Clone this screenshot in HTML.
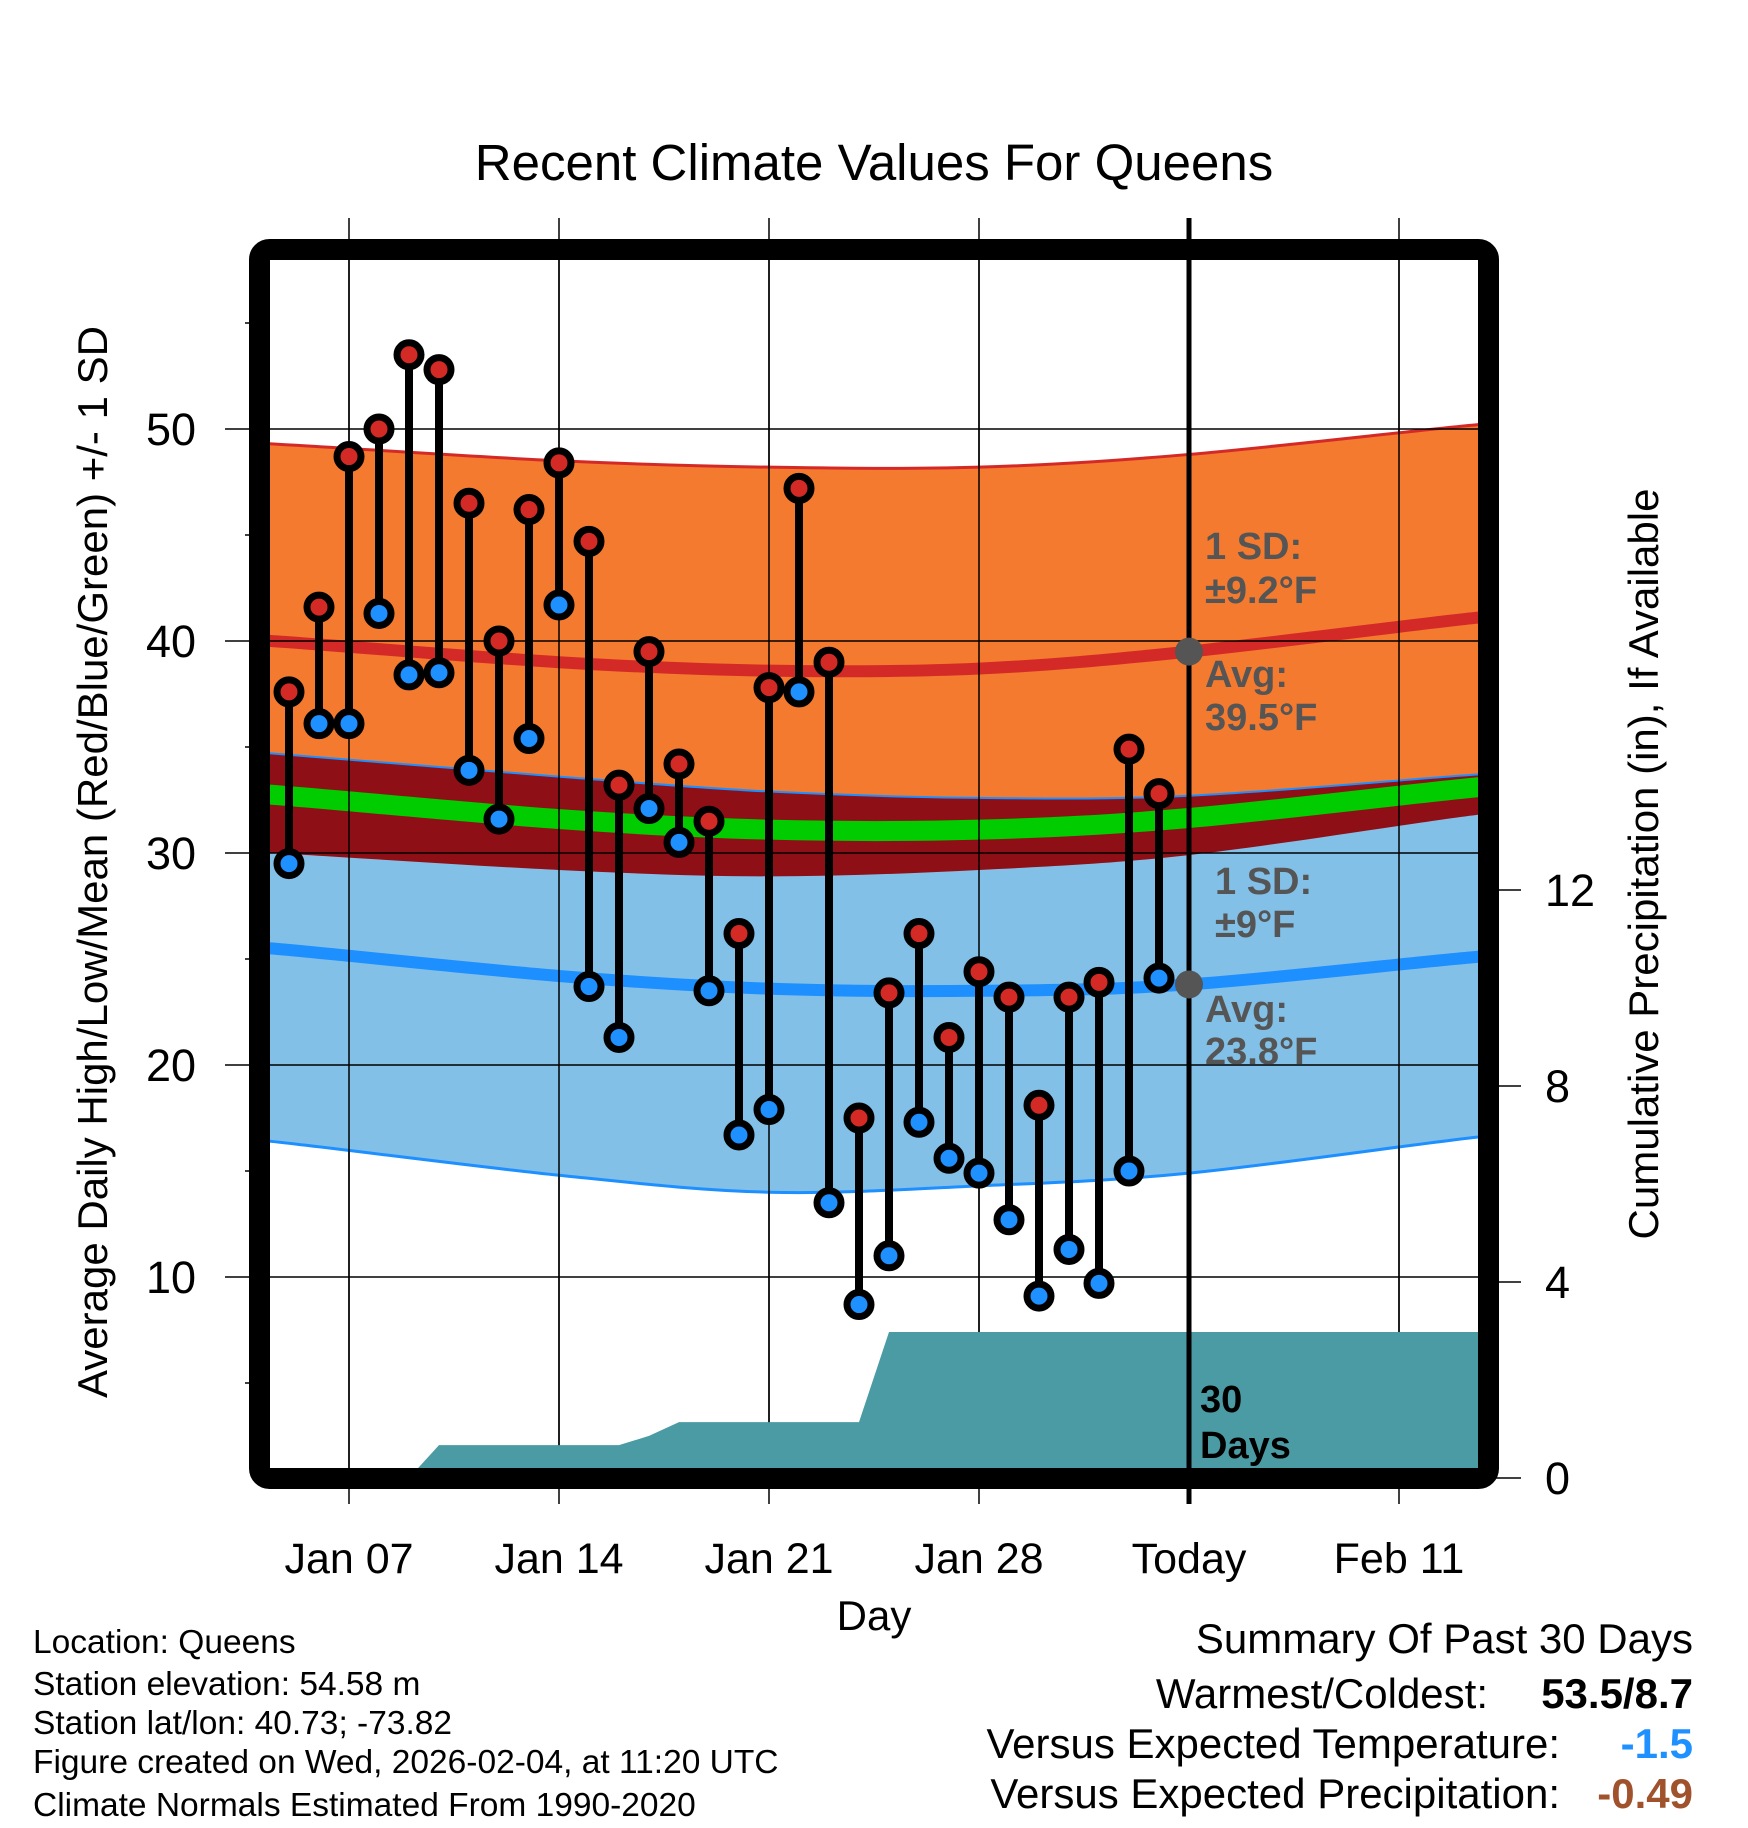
<!DOCTYPE html>
<html><head><meta charset="utf-8"><style>
html,body{margin:0;padding:0;background:#fff;}
svg{display:block;font-family:"Liberation Sans",Arial,sans-serif;}
</style></head><body>
<svg id="chart" width="1748" height="1828" viewBox="0 0 1748 1828" xmlns="http://www.w3.org/2000/svg">
<defs><clipPath id="plotclip"><rect x="270" y="260" width="1208" height="1208"/></clipPath></defs>
<text x="874" y="180" font-size="51" text-anchor="middle">Recent Climate Values For Queens</text>
<g id="grid"></g>
<g id="plot" clip-path="url(#plotclip)"></g>
<g id="axes"></g>
<rect x="259.5" y="249.5" width="1229" height="1229" rx="10" fill="none" stroke="#000" stroke-width="21"/>
<g id="annot" font-weight="bold" font-size="38" fill="#555">
<text x="1205" y="559">1 SD:</text>
<text x="1205" y="603">±9.2°F</text>
<text x="1205" y="687">Avg:</text>
<text x="1205" y="730">39.5°F</text>
<text x="1215" y="894">1 SD:</text>
<text x="1215" y="937">±9°F</text>
<text x="1205" y="1022">Avg:</text>
<text x="1205" y="1064">23.8°F</text>
<text x="1200" y="1412" fill="#000">30</text>
<text x="1200" y="1458" fill="#000">Days</text>
</g>
<text transform="translate(107,862) rotate(-90)" font-size="42" text-anchor="middle">Average Daily High/Low/Mean (Red/Blue/Green) +/- 1 SD</text>
<text transform="translate(1658,864) rotate(-90)" font-size="42" text-anchor="middle">Cumulative Precipitation (in), If Available</text>
<text x="874" y="1630" font-size="42" text-anchor="middle">Day</text>
<g font-size="33.5">
<text x="33" y="1653">Location: Queens</text>
<text x="33" y="1695">Station elevation: 54.58 m</text>
<text x="33" y="1734">Station lat/lon: 40.73; -73.82</text>
<text x="33" y="1773">Figure created on Wed, 2026-02-04, at 11:20 UTC</text>
<text x="33" y="1816">Climate Normals Estimated From 1990-2020</text>
</g>
<g font-size="42">
<text x="1693" y="1653" text-anchor="end">Summary Of Past 30 Days</text>
<text x="1488" y="1708" text-anchor="end">Warmest/Coldest:</text>
<text x="1693" y="1708" text-anchor="end" font-weight="bold">53.5/8.7</text>
<text x="1560" y="1758" text-anchor="end">Versus Expected Temperature:</text>
<text x="1693" y="1758" text-anchor="end" font-weight="bold" fill="#1e90ff">-1.5</text>
<text x="1560" y="1808" text-anchor="end">Versus Expected Precipitation:</text>
<text x="1693" y="1808" text-anchor="end" font-weight="bold" fill="#a0522d">-0.49</text>
</g>
</svg>
<script>
// days are offsets from Jan 07
const obsDays = [-2,-1,0,1,2,3,4,5,6,7,8,9,10,11,12,13,14,15,16,17,18,19,20,21,22,23,24,25,26,27];
const highs = [37.6,41.6,48.7,50.0,53.5,52.8,46.5,40.0,46.2,48.4,44.7,33.2,39.5,34.2,31.5,26.2,37.8,47.2,39.0,17.5,23.4,26.2,21.3,24.4,23.2,18.1,23.2,23.9,34.9,32.8];
const lows = [29.5,36.1,36.1,41.3,38.4,38.5,33.9,31.6,35.4,41.7,23.7,21.3,32.1,30.5,23.5,16.7,17.9,37.6,13.5,8.7,11.0,17.3,15.6,14.9,12.7,9.1,11.3,9.7,15.0,24.1];
const normDays = [-2.6,7,14,21,28,37.6];
const highAvg = [40.0,39.0,38.6,38.7,39.5,41.1];
const highUpper = [49.3,48.5,48.2,48.2,48.8,50.2];
const highLower = [30.0,29.2,28.9,29.2,29.9,31.8];
const lowAvg = [25.5,24.2,23.6,23.5,23.8,25.1];
const lowUpper = [34.7,33.6,32.9,32.6,32.7,33.7];
const lowLower = [16.4,14.8,14.0,14.3,14.9,16.6];
const precipDays = [-3,2,3,9,10,11,17,18,38];
const precipCum = [0,0,0.67,0.67,0.86,1.14,1.14,2.98,2.98];
const xTickDays = [0,7,14,21,28,35];
const xTickLabels = ["Jan 07","Jan 14","Jan 21","Jan 28","Today","Feb 11"];
const yTicks = [10,20,30,40,50];
const yMinor = [5,15,25,35,45,55];
const pTicks = [0,4,8,12];
const todayDay = 28;
const todayHigh = 39.5, todayLow = 23.8;

const NS="http://www.w3.org/2000/svg";
const x = d => 349 + 30*d;
const y = t => 429 + (50 - t)*21.2;
const yp = p => 1478 - p*49;
function mk(parent, tag, attrs){const e=document.createElementNS(NS,tag);for(const k in attrs)e.setAttribute(k,attrs[k]);parent.appendChild(e);return e;}
function crPath(pts){
  let d=`M${pts[0][0]},${pts[0][1]}`;
  for(let i=0;i<pts.length-1;i++){
    const p0=pts[Math.max(0,i-1)],p1=pts[i],p2=pts[i+1],p3=pts[Math.min(pts.length-1,i+2)];
    const c1=[p1[0]+(p2[0]-p0[0])/6,p1[1]+(p2[1]-p0[1])/6];
    const c2=[p2[0]-(p3[0]-p1[0])/6,p2[1]-(p3[1]-p1[1])/6];
    d+=` C${c1[0]},${c1[1]} ${c2[0]},${c2[1]} ${p2[0]},${p2[1]}`;
  }
  return d;
}
function curve(vals){
  const pts=normDays.map((d,i)=>[x(d),y(vals[i])]);
  pts.unshift([x(-4),y(vals[0])]); pts.push([x(39),y(vals[vals.length-1])]);
  return pts;
}
function bandPath(top, bot){
  const t=crPath(curve(top));
  const b=crPath(curve(bot).reverse());
  return t+" L"+b.slice(1)+" Z";
}
const plot=document.getElementById('plot');
const grid=document.getElementById('grid');
const axes=document.getElementById('axes');
const meanVals=highAvg.map((h,i)=>(h+lowAvg[i])/2);

let e;
e=mk(plot,'path',{d:bandPath(highUpper,highLower),fill:'#f47a30'});


e=mk(plot,'path',{d:bandPath(lowUpper,lowLower),fill:'#82c0e7'});


e=mk(plot,'path',{d:bandPath(lowUpper,highLower),fill:'#8f0f16'});


e=mk(plot,'path',{d:crPath(curve(highUpper)),fill:'none',stroke:'#d42a27','stroke-width':3});


e=mk(plot,'path',{d:crPath(curve(lowUpper)),fill:'none',stroke:'#1e8fff','stroke-width':2});


e=mk(plot,'path',{d:crPath(curve(lowLower)),fill:'none',stroke:'#1e8fff','stroke-width':3});


e=mk(plot,'path',{d:crPath(curve(meanVals)),fill:'none',stroke:'#00cc00','stroke-width':20});


e=mk(plot,'path',{d:crPath(curve(highAvg)),fill:'none',stroke:'#d42a27','stroke-width':12});


e=mk(plot,'path',{d:crPath(curve(lowAvg)),fill:'none',stroke:'#1e8fff','stroke-width':12});



xTickDays.forEach(d=>{
  if(d===todayDay) return;
  e=mk(grid,'line',{x1:x(d),x2:x(d),y1:218,y2:1504,stroke:'#000','stroke-width':1.5});
  
  
});
const grid2=mk(document.getElementById('chart'),'g',{});


document.getElementById('chart').insertBefore(grid2,document.getElementById('axes'));
xTickDays.forEach(d=>{
  if(d===todayDay) return;
  e=mk(grid2,'line',{x1:x(d),x2:x(d),y1:260,y2:1468,stroke:'#000','stroke-width':1.5,'clip-path':'url(#plotclip)'});
  
  
});
yTicks.forEach(t=>{
  e=mk(grid2,'line',{x1:225,x2:1478,y1:y(t),y2:y(t),stroke:'#000','stroke-width':1.5});
  
  
});
yMinor.forEach(t=>{
  e=mk(axes,'line',{x1:245,x2:260,y1:y(t),y2:y(t),stroke:'#000','stroke-width':1.5});
  
  
});
const pPts=precipDays.map((d,i)=>`${x(d)},${yp(precipCum[i])}`);
e=mk(grid2,'polygon',{points:`${x(-3)},${yp(0)} `+pPts.join(' ')+` ${x(38)},${yp(0)}`,fill:'#4a9ba3','clip-path':'url(#plotclip)'});


e=mk(grid2,'line',{x1:x(todayDay),x2:x(todayDay),y1:218,y2:1504,stroke:'#000','stroke-width':5});


e=mk(grid2,'circle',{cx:x(todayDay),cy:y(todayHigh),r:14,fill:'#555'});


e=mk(grid2,'circle',{cx:x(todayDay),cy:y(todayLow),r:14,fill:'#555'});


obsDays.forEach((d,i)=>{
  const g=mk(grid2,'g',{});
  
  
  mk(g,'line',{x1:x(d),x2:x(d),y1:y(highs[i]),y2:y(lows[i]),stroke:'#000','stroke-width':8});
  e=mk(g,'circle',{cx:x(d),cy:y(highs[i]),r:12,fill:'#d42a25',stroke:'#000','stroke-width':7});
  
  
  e=mk(g,'circle',{cx:x(d),cy:y(lows[i]),r:12,fill:'#1e90ff',stroke:'#000','stroke-width':7});
  
  
});
yTicks.forEach(t=>{
  e=mk(axes,'text',{x:196,y:y(t)+16,'font-size':45,'text-anchor':'end'});
  e.textContent=t;
  
  
});
pTicks.forEach(p=>{
  e=mk(axes,'line',{x1:1488,x2:1521,y1:yp(p),y2:yp(p),stroke:'#000','stroke-width':1.5});
  
  
  e=mk(axes,'text',{x:1545,y:yp(p)+16,'font-size':45});
  e.textContent=p;
  
  
});
xTickDays.forEach((d,i)=>{
  e=mk(axes,'text',{x:x(d),y:1573,'font-size':43,'text-anchor':'middle'});
  e.textContent=xTickLabels[i];
  
  
});
</script>
</body></html>
